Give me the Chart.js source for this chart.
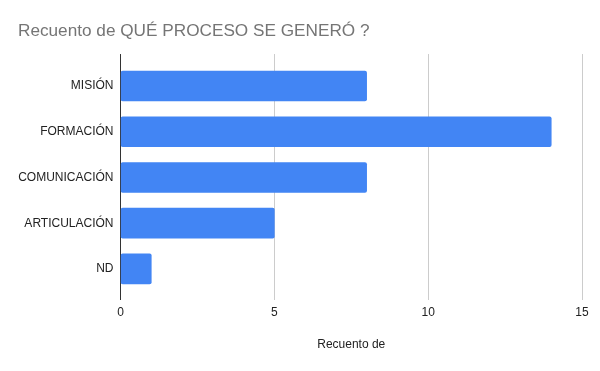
<!DOCTYPE html>
<html>
<head>
<meta charset="utf-8">
<script src="https://cdn.jsdelivr.net/npm/chart.js@4.4.1/dist/chart.umd.min.js"></script>
<style>
  html, body { margin: 0; padding: 0; background: #fff; }
  #wrap { width: 600px; height: 371px; }
</style>
</head>
<body>
<div id="wrap"><canvas id="grafico"></canvas></div>
<script>
// datos
const categorias = ['MISIÓN', 'FORMACIÓN', 'COMUNICACIÓN', 'ARTICULACIÓN', 'ND'];
const recuento = [8, 14, 8, 5, 1];
const ticksX = [0, 5, 10, 15];

const fuente = "Arial, 'Liberation Sans', sans-serif";

const ctx = document.getElementById('grafico');
new Chart(ctx, {
  type: 'bar',
  data: {
    datasets: [{
      label: 'Recuento de',
      data: recuento.map((v, i) => ({ x: v, y: i })),
      backgroundColor: '#4285f4',
      borderRadius: 2,
      borderSkipped: false,
      barThickness: 30
    }]
  },
  options: {
    indexAxis: 'y',
    responsive: true,
    maintainAspectRatio: false,
    animation: false,
    layout: { padding: { left: 18, right: 18, top: 0, bottom: 0 } },
    plugins: {
      legend: { display: false },
      tooltip: { enabled: false },
      title: {
        display: true,
        text: 'Recuento de QUÉ PROCESO SE GENERÓ ?',
        align: 'start',
        color: '#757575',
        font: { family: fuente, size: 17.2, weight: 'normal' },
        padding: { top: 21, bottom: 12.4 }
      }
    },
    scales: {
      x: {
        min: 0,
        max: 15,
        afterBuildTicks: s => { s.ticks = ticksX.map(v => ({ value: v })); },
        afterFit: s => { s.height = 71; },
        border: { display: false },
        grid: {
          drawTicks: false,
          color: c => (c.tick && c.tick.value === 0) ? '#333333' : '#cccccc'
        },
        ticks: { color: '#222', padding: 5.5, font: { family: fuente, size: 12 } },
        title: {
          display: true,
          text: 'Recuento de',
          color: '#222',
          font: { family: fuente, size: 12 },
          padding: { top: 0, bottom: 18.8 }
        }
      },
      y: {
        type: 'linear',
        reverse: true,
        offset: false,
        min: -0.7,
        max: 4.68,
        afterBuildTicks: s => { s.ticks = categorias.map((_, i) => ({ value: i })); },
        afterFit: s => { s.width = 102.5; },
        border: { display: false },
        grid: { display: false, drawTicks: false },
        ticks: {
          color: '#222',
          padding: 7,
          font: { family: fuente, size: 12 },
          callback: v => categorias[v]
        }
      }
    }
  }
});
</script>
</body>
</html>
